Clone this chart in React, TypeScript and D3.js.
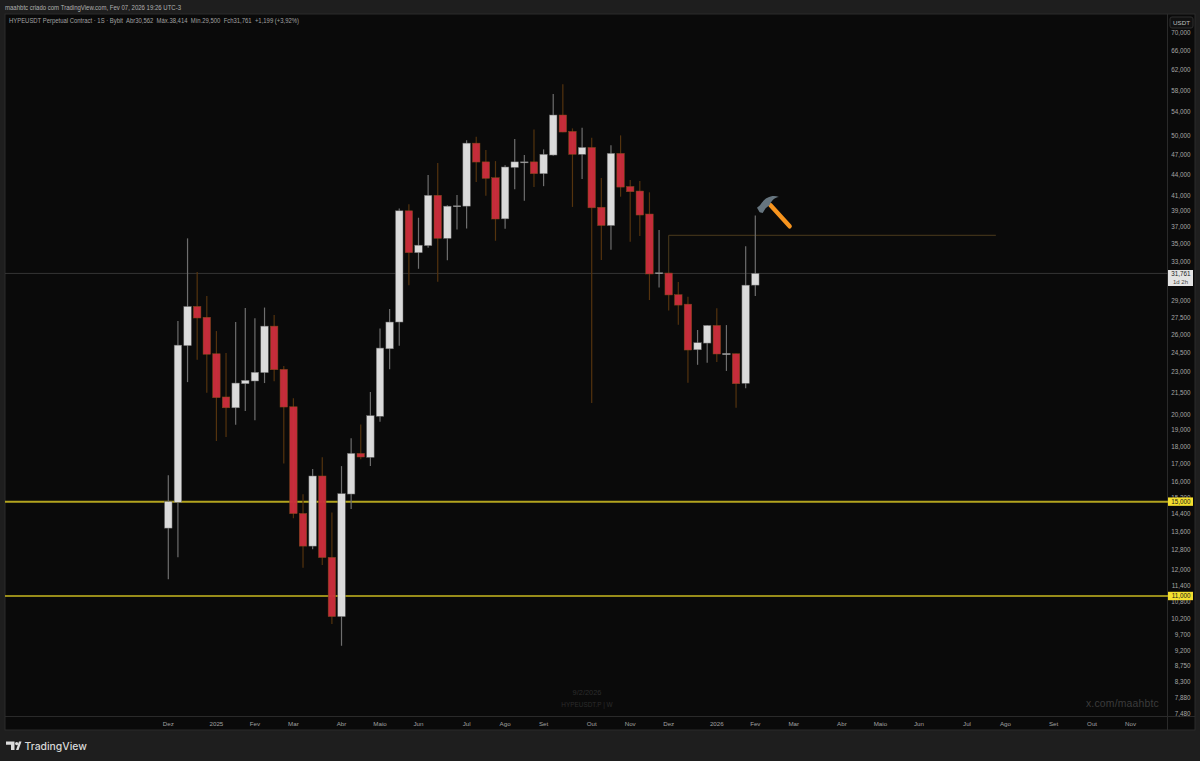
import React from "react";
import * as d3 from "d3";

const opens = [13750,14970,25050,28500,27500,24390,21160,20420,22100,22300,22920,26710,23170,20490,14430,12960,16320,12490,10280,15380,17580,17350,19860,24790,27070,39020,34000,34800,41060,35640,39560,39620,48740,45830,43500,38000,45000,45770,45830,44080,46870,53460,50660,46980,48050,39480,37180,47130,42270,41640,38610,31730,31800,29620,28710,24710,25260,26770,24310,24390,22130,30562];
const highs = [16360,27160,35640,31900,29490,26280,24450,27070,28350,27400,28390,27700,23420,21070,15370,16700,17350,14480,16860,18470,19330,21510,26510,28250,39330,39880,38140,43890,45640,39750,41090,49190,49780,47640,45950,45340,49400,46870,50990,47750,57280,59170,51160,51260,49620,43460,48410,50000,43170,43030,41460,36620,31850,30870,29420,26370,26800,28330,26800,24410,34740,38414];
const lows = [11620,12490,22220,23920,21460,18310,18550,19310,20200,19600,22150,22280,17010,14200,12070,12830,12180,10030,9340,14640,17240,16860,19510,23170,25030,30560,32250,34550,30900,33160,36700,36820,42880,41000,35360,36770,41900,40330,42200,42310,46760,50500,39520,43310,20740,33200,34330,40870,35240,35920,29100,30320,28120,26830,22170,23520,23680,23730,23050,20420,21770,29500];
const closes = [15000,25090,28490,27430,24350,21110,20420,22150,22350,22950,26710,23140,20470,14420,12960,16320,12480,10280,15400,17580,17370,19900,24850,27070,39020,34000,34850,41060,35640,39620,39670,48740,45800,43410,37980,45060,45830,45830,44080,46980,53460,50550,46980,48050,39400,37180,47130,42180,41540,38480,31700,31830,29590,28620,24690,25290,26770,24370,24420,22100,30560,31761];

const priceTicks = [70000,66000,62000,58000,54000,50000,47000,44000,41000,39000,37000,35000,33000,29000,27500,26000,24500,23000,21500,20000,19000,18000,17000,16000,15200,14400,13600,12800,12000,11400,10800,10200,9700,9200,8750,8300,7880,7480];
const timeLabels = ["Dez","2025","Fev","Mar","Abr","Maio","Jun","Jul","Ago","Set","Out","Nov","Dez","2026","Fev","Mar","Abr","Maio","Jun","Jul","Ago","Set","Out","Nov"];
const timeIndexes = [0,5,9,13,18,22,26,31,35,39,44,48,52,57,61,65,70,74,78,83,87,92,96,100];
const supportLevels = [15000, 11000];
const lastPrice = 31761;
const trendLevel = 36000;
const trendStart = 52;
const trendEnd = 86;

const FONT = "'Liberation Sans', Arial, sans-serif";
const fmt = d3.format(",");

export default function App() {
  React.useLayoutEffect(() => {
    document.body.style.margin = "0";
    document.body.style.background = "#1e1e1e";
  }, []);
  const y = d3.scaleLog().domain([11000, 70000]).range([596, 33]);
  const x = d3.scaleLinear().domain([0, 61]).range([168.3, 755.3]);
  const bw = 7.5;
  const axisX = 1168;
  const labelBoxW = 25;
  return (
    <svg width={1200} height={761} style={{ display: "block", fontFamily: FONT }}>
      <rect width={1200} height={761} fill="#1e1e1e" />
      <rect x={5} y={14} width={1190} height={716} fill="#0a0a0a" stroke="#2b2b2b" strokeWidth={1} />
      <line x1={5} x2={1195} y1={716.5} y2={716.5} stroke="#2a2a2a" />
      <line x1={axisX - 0.5} x2={axisX - 0.5} y1={14} y2={730} stroke="#2a2a2a" />

      <text x={5} y={10.3} fontSize={6.5} fill="#b0b0b0" textLength={176} lengthAdjust="spacingAndGlyphs">maahbtc criado com TradingView.com, Fev 07, 2026 19:26 UTC-3</text>
      <text x={9} y={23.3} fontSize={6.5} fill="#a0a0a0" xmlSpace="preserve" textLength={290} lengthAdjust="spacingAndGlyphs">HYPEUSDT Perpetual Contract · 1S · Bybit  Abr30,562  Máx.38,414  Mín.29,500  Fch31,761  +1,199 (+3,92%)</text>

      <text x={587} y={695} fontSize={7.4} textAnchor="middle" fill="#2c2c2c">9/2/2026</text>
      <text x={587} y={707} fontSize={6.4} textAnchor="middle" fill="#2c2c2c">HYPEUSDT.P | W</text>
      <text x={1159} y={707} fontSize={10.4} textAnchor="end" fill="#3c3c3c" letterSpacing={0.2}>x.com/maahbtc</text>

      <line x1={5} x2={axisX} y1={y(lastPrice)} y2={y(lastPrice)} stroke="#353535" strokeWidth={1} />

      {supportLevels.map((s, i) => (
        <line key={s} x1={5} x2={axisX} y1={y(s)} y2={y(s)} stroke={i === 0 ? "#b3a41f" : "#c9b820"} strokeWidth={i === 0 ? 2 : 1.6} />
      ))}

      <path
        d={`M${x(trendStart)},${y(lastPrice)}V${y(trendLevel)}H${x(trendEnd)}`}
        fill="none"
        stroke="#4a3a1c"
        strokeWidth={1}
      />

      {opens.map((o, i) => {
        const up = closes[i] >= o;
        const cx = x(i);
        const top = y(Math.max(o, closes[i]));
        const bot = y(Math.min(o, closes[i]));
        return (
          <g key={i}>
            <line x1={cx} x2={cx} y1={y(highs[i])} y2={y(lows[i])} stroke={up ? "#6e6e6e" : "#54330e"} strokeWidth={1.2} />
            <rect
              x={cx - bw / 2}
              y={top}
              width={bw}
              height={Math.max(bot - top, 1)}
              fill={up ? "#dedede" : "#cc2e3c"}
              fillOpacity={up ? 0.98 : 0.96}
              stroke={up ? "#666" : "#7a4a18"}
              strokeWidth={0.5}
            />
          </g>
        );
      })}

      <g transform="translate(745,185) scale(0.3333)">
        <path d="M76,60 L134,124" stroke="#f7941e" strokeWidth={13} strokeLinecap="round" fill="none" />
        <path d="M36,68 L45,61 C56,40 80,27 102,36 C87,38 79,48 74,60 L62,70 L53,84 L44,82 Z" fill="#66757f" />
      </g>

      {priceTicks.map((t) => (
        <text key={t} x={1190.5} y={y(t) + 2.4} fontSize={6.3} textAnchor="end" fill="#a6a6a6">{fmt(t)}</text>
      ))}

      {supportLevels.map((s) => (
        <g key={s}>
          <rect x={axisX} y={y(s) - 4.2} width={labelBoxW} height={8.4} fill="#f4df2f" />
          <text x={1190.5} y={y(s) + 2.4} fontSize={6.3} textAnchor="end" fill="#1a1a1a">{fmt(s)}</text>
        </g>
      ))}

      <rect x={axisX} y={270} width={labelBoxW} height={16} fill="#e4e4e4" />
      <text x={1190.5} y={276.3} fontSize={6.3} textAnchor="end" fill="#222">{fmt(lastPrice)}</text>
      <text x={1188} y={283.8} fontSize={6} textAnchor="end" fill="#444">1d 2h</text>

      <rect x={1170} y={17} width={23} height={11} rx={2} fill="#111" stroke="#2e2e2e" />
      <text x={1181.5} y={24.8} fontSize={6.2} textAnchor="middle" fill="#c0c0c0">USDT</text>

      {timeLabels.map((l, i) => (
        <text key={i} x={x(timeIndexes[i])} y={725.8} fontSize={6.2} textAnchor="middle" fill="#a0a0a0">{l}</text>
      ))}

      <g fill="#dcdcdc">
        <path d="M6,741.5H14.5V750H11V744.8H6Z" />
        <circle cx={16.7} cy={743.6} r={1.7} />
        <path d="M16,750L19,741.5H21.5L18.5,750Z" />
      </g>
      <text x={24.5} y={750} fontFamily="Inter, sans-serif" fontSize={10.4} fontWeight={500} fill="#d8d8d8">TradingView</text>
    </svg>
  );
}
